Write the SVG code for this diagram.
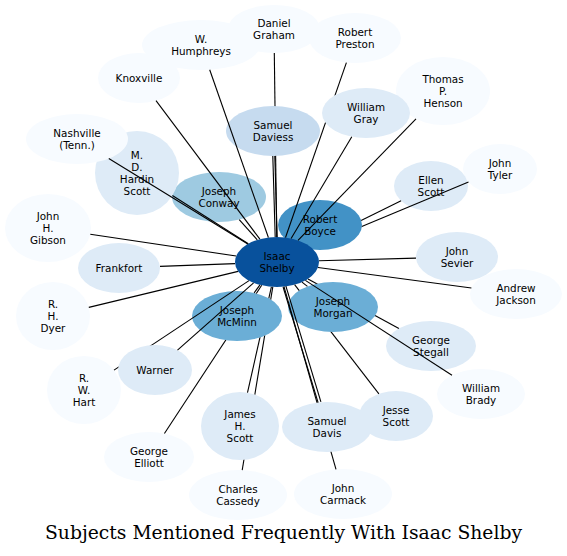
<svg xmlns="http://www.w3.org/2000/svg" width="567" height="556" viewBox="0 0 567 556">
<style>
.n text{font-family:"DejaVu Sans","Liberation Sans",sans-serif;font-size:10.4px;text-anchor:middle;fill:#000}
.e line{stroke:#000;stroke-width:1.1;fill:none}
.c0{fill:#08519c}.c1{fill:#4292c6}.c2{fill:#6baed6}.c3{fill:#9ecae1}.c4{fill:#c6dbef}.c5{fill:#deebf7}.c6{fill:#f7fbff}
.title{font-family:"DejaVu Serif","Liberation Serif",serif;font-size:18px;text-anchor:middle;fill:#000}
</style>
<defs>
<mask id="mDaviess" maskUnits="userSpaceOnUse" x="0" y="0" width="567" height="556"><rect width="567" height="556" fill="#fff"/><ellipse cx="273" cy="131" rx="47" ry="25" fill="#000"/></mask>
<mask id="mGray" maskUnits="userSpaceOnUse" x="0" y="0" width="567" height="556"><rect width="567" height="556" fill="#fff"/><ellipse cx="366" cy="113" rx="44" ry="25" fill="#000"/></mask>
<mask id="mBoyce" maskUnits="userSpaceOnUse" x="0" y="0" width="567" height="556"><rect width="567" height="556" fill="#fff"/><ellipse cx="320" cy="225" rx="42" ry="25" fill="#000"/></mask>
<mask id="mMorgan" maskUnits="userSpaceOnUse" x="0" y="0" width="567" height="556"><rect width="567" height="556" fill="#fff"/><ellipse cx="333" cy="307" rx="45" ry="25" fill="#000"/></mask>
<mask id="mDavis" maskUnits="userSpaceOnUse" x="0" y="0" width="567" height="556"><rect width="567" height="556" fill="#fff"/><ellipse cx="327" cy="427" rx="45" ry="25" fill="#000"/></mask>
<mask id="mMcMinn" maskUnits="userSpaceOnUse" x="0" y="0" width="567" height="556"><rect width="567" height="556" fill="#fff"/><ellipse cx="237" cy="316" rx="45" ry="25" fill="#000"/></mask>
<mask id="mJScottMcMinn" maskUnits="userSpaceOnUse" x="0" y="0" width="567" height="556"><rect width="567" height="556" fill="#fff"/><ellipse cx="237" cy="316" rx="45" ry="25" fill="#000"/><ellipse cx="240" cy="426" rx="39" ry="34" fill="#000"/></mask>
<mask id="mWarner" maskUnits="userSpaceOnUse" x="0" y="0" width="567" height="556"><rect width="567" height="556" fill="#fff"/><ellipse cx="155" cy="370" rx="37" ry="25" fill="#000"/></mask>
</defs>
<rect width="567" height="556" fill="#fff"/>
<g id="nodes" class="n">
<g id="n-robert-boyce"><ellipse class="c1" cx="320" cy="225" rx="42" ry="25"/><text x="320" y="222.5">Robert</text><text x="320" y="234.5">Boyce</text></g>
<g id="n-isaac-shelby"><ellipse class="c0" cx="277" cy="262" rx="42" ry="25"/><text x="277" y="259.5">Isaac</text><text x="277" y="271.5">Shelby</text></g>
<g id="n-joseph-morgan"><ellipse class="c2" cx="333" cy="307" rx="45" ry="25"/><text x="333" y="304.5">Joseph</text><text x="333" y="316.5">Morgan</text></g>
<g id="n-joseph-mcminn"><ellipse class="c2" cx="237" cy="316" rx="45" ry="25"/><text x="237" y="313.5">Joseph</text><text x="237" y="325.5">McMinn</text></g>
<g id="n-joseph-conway"><ellipse class="c3" cx="219" cy="197" rx="47" ry="25"/><text x="219" y="194.5">Joseph</text><text x="219" y="206.5">Conway</text></g>
<g id="n-samuel-daviess"><ellipse class="c4" cx="273" cy="131" rx="47" ry="25"/><text x="273" y="128.5">Samuel</text><text x="273" y="140.5">Daviess</text></g>
<g id="n-thomas-p-henson"><ellipse class="c6" cx="443" cy="91" rx="47" ry="34"/><text x="443" y="82.5">Thomas</text><text x="443" y="94.5">P.</text><text x="443" y="106.5">Henson</text></g>
<g id="n-william-gray"><ellipse class="c5" cx="366" cy="113" rx="44" ry="25"/><text x="366" y="110.5">William</text><text x="366" y="122.5">Gray</text></g>
<g id="n-w-humphreys"><ellipse class="c6" cx="201" cy="45" rx="59" ry="25"/><text x="201" y="42.5">W.</text><text x="201" y="54.5">Humphreys</text></g>
<g id="n-daniel-graham"><ellipse class="c6" cx="274" cy="29" rx="46" ry="24"/><text x="274" y="26.5">Daniel</text><text x="274" y="38.5">Graham</text></g>
<g id="n-robert-preston"><ellipse class="c6" cx="355" cy="38" rx="46" ry="25"/><text x="355" y="35.5">Robert</text><text x="355" y="47.5">Preston</text></g>
<g id="n-knoxville"><ellipse class="c6" cx="139" cy="78" rx="41" ry="25"/><text x="139" y="81.5">Knoxville</text></g>
<g id="n-md-hardin-scott"><ellipse class="c5" cx="137" cy="173" rx="42" ry="42"/><text x="137" y="158.5">M.</text><text x="137" y="170.5">D.</text><text x="137" y="182.5">Hardin</text><text x="137" y="194.5">Scott</text></g>
<g id="n-nashville"><ellipse class="c6" cx="77" cy="139" rx="51" ry="25"/><text x="77" y="136.5">Nashville</text><text x="77" y="148.5">(Tenn.)</text></g>
<g id="n-john-h-gibson"><ellipse class="c6" cx="48" cy="228" rx="43" ry="34"/><text x="48" y="219.5">John</text><text x="48" y="231.5">H.</text><text x="48" y="243.5">Gibson</text></g>
<g id="n-frankfort"><ellipse class="c5" cx="119" cy="268" rx="41" ry="25"/><text x="119" y="271.5">Frankfort</text></g>
<g id="n-rh-dyer"><ellipse class="c6" cx="53" cy="316" rx="37" ry="34"/><text x="53" y="307.5">R.</text><text x="53" y="319.5">H.</text><text x="53" y="331.5">Dyer</text></g>
<g id="n-rw-hart"><ellipse class="c6" cx="84" cy="390" rx="37" ry="34"/><text x="84" y="381.5">R.</text><text x="84" y="393.5">W.</text><text x="84" y="405.5">Hart</text></g>
<g id="n-warner"><ellipse class="c5" cx="155" cy="370" rx="37" ry="25"/><text x="155" y="373.5">Warner</text></g>
<g id="n-george-elliott"><ellipse class="c6" cx="149" cy="457" rx="45" ry="25"/><text x="149" y="454.5">George</text><text x="149" y="466.5">Elliott</text></g>
<g id="n-james-h-scott"><ellipse class="c5" cx="240" cy="426" rx="39" ry="34"/><text x="240" y="417.5">James</text><text x="240" y="429.5">H.</text><text x="240" y="441.5">Scott</text></g>
<g id="n-charles-cassedy"><ellipse class="c6" cx="238" cy="495" rx="49" ry="25"/><text x="238" y="492.5">Charles</text><text x="238" y="504.5">Cassedy</text></g>
<g id="n-samuel-davis"><ellipse class="c5" cx="327" cy="427" rx="45" ry="25"/><text x="327" y="424.5">Samuel</text><text x="327" y="436.5">Davis</text></g>
<g id="n-jesse-scott"><ellipse class="c5" cx="396" cy="416" rx="37" ry="25"/><text x="396" y="413.5">Jesse</text><text x="396" y="425.5">Scott</text></g>
<g id="n-john-carmack"><ellipse class="c6" cx="343" cy="494" rx="49" ry="25"/><text x="343" y="491.5">John</text><text x="343" y="503.5">Carmack</text></g>
<g id="n-william-brady"><ellipse class="c6" cx="481" cy="394" rx="44" ry="25"/><text x="481" y="391.5">William</text><text x="481" y="403.5">Brady</text></g>
<g id="n-george-stegall"><ellipse class="c5" cx="431" cy="346" rx="45" ry="25"/><text x="431" y="343.5">George</text><text x="431" y="355.5">Stegall</text></g>
<g id="n-andrew-jackson"><ellipse class="c6" cx="516" cy="294" rx="46" ry="25"/><text x="516" y="291.5">Andrew</text><text x="516" y="303.5">Jackson</text></g>
<g id="n-john-sevier"><ellipse class="c5" cx="457" cy="257" rx="41" ry="25"/><text x="457" y="254.5">John</text><text x="457" y="266.5">Sevier</text></g>
<g id="n-john-tyler"><ellipse class="c6" cx="500" cy="169" rx="37" ry="25"/><text x="500" y="166.5">John</text><text x="500" y="178.5">Tyler</text></g>
<g id="n-ellen-scott"><ellipse class="c5" cx="431" cy="186" rx="37" ry="25"/><text x="431" y="183.5">Ellen</text><text x="431" y="195.5">Scott</text></g>
</g>
<g id="edges" class="e">
<line x1="156" y1="100.7" x2="259.9" y2="239.2"/>
<line x1="209.7" y1="69.7" x2="268.4" y2="237.5"/>
<line x1="274.3" y1="53" x2="276.7" y2="237" mask="url(#mDaviess)"/>
<line x1="272.8" y1="156" x2="275.2" y2="237"/>
<line x1="274.8" y1="156" x2="277.2" y2="237"/>
<line x1="346.4" y1="62.6" x2="285.5" y2="237.5" mask="url(#mGray)"/>
<line x1="351.8" y1="136.7" x2="291.1" y2="238.5"/>
<line x1="416" y1="118.8" x2="298" y2="240.3"/>
<line x1="468.5" y1="182.1" x2="311.4" y2="247.6" mask="url(#mBoyce)"/>
<line x1="401.1" y1="200.7" x2="309.4" y2="246" mask="url(#mBoyce)"/>
<line x1="416" y1="258.1" x2="319" y2="260.8"/>
<line x1="471.4" y1="288" x2="318" y2="267.5"/>
<line x1="398.9" y1="328.5" x2="308" y2="278.9" mask="url(#mMorgan)"/>
<line x1="452" y1="375.2" x2="305.4" y2="280.4"/>
<line x1="307.4" y1="286.4" x2="302" y2="282.1"/>
<line x1="378.9" y1="393.8" x2="294.6" y2="284.7" mask="url(#mMorgan)"/>
<line x1="320.9" y1="401.9" x2="285.9" y2="286.2"/>
<line x1="318.1" y1="402.7" x2="283.1" y2="287"/>
<line x1="336" y1="469.3" x2="284" y2="286.6" mask="url(#mDavis)"/>
<line x1="247.5" y1="392.6" x2="271.4" y2="286.8" mask="url(#mMcMinn)"/>
<line x1="242.2" y1="470.1" x2="272.8" y2="286.9" mask="url(#mJScottMcMinn)"/>
<line x1="254.1" y1="292.9" x2="260" y2="284.9"/>
<line x1="164.4" y1="433.5" x2="261.7" y2="285.3" mask="url(#mMcMinn)"/>
<line x1="177.5" y1="350.1" x2="253.6" y2="282.8"/>
<line x1="114" y1="370.1" x2="249" y2="280.6" mask="url(#mWarner)"/>
<line x1="88.8" y1="307.4" x2="238.1" y2="271.4"/>
<line x1="160" y1="266.4" x2="235" y2="263.6"/>
<line x1="90.3" y1="234.3" x2="236.2" y2="256"/>
<line x1="108.8" y1="158.5" x2="247.8" y2="244"/>
<line x1="172.4" y1="195.5" x2="248.3" y2="243.8"/>
<line x1="239.2" y1="219.6" x2="257.3" y2="239.9"/>
</g>
<text class="title" x="283.5" y="539" textLength="477" lengthAdjust="spacingAndGlyphs">Subjects Mentioned Frequently With Isaac Shelby</text>
</svg>
